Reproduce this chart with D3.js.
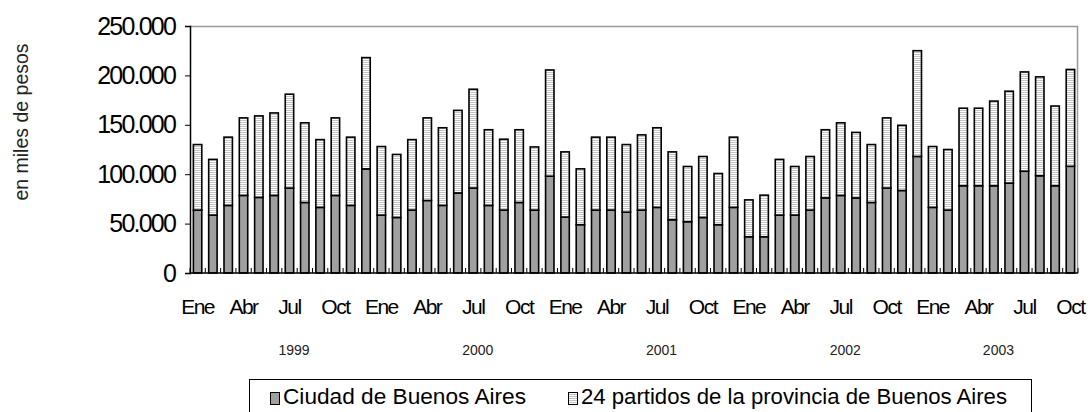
<!DOCTYPE html>
<html>
<head>
<meta charset="utf-8">
<script src="https://cdn.jsdelivr.net/npm/d3@7"></script>
<style>
  body { margin: 0; background: #fff; }
  svg { display: block; font-family: "Liberation Sans", Arial, sans-serif; }
</style>
</head>
<body>
<svg id="chart" width="1090" height="412"></svg>
<script>
// months of each year shown (1999 - oct 2003)
const years = ['1999', '2000', '2001', '2002', '2003'];
const monthNames = ['Ene', 'Feb', 'Mar', 'Abr', 'May', 'Jun', 'Jul', 'Ago', 'Sep', 'Oct', 'Nov', 'Dic'];
const monthsPerYear = [12, 12, 12, 12, 10];
const labelledMonths = ['Ene', 'Abr', 'Jul', 'Oct'];

// en miles de pesos
const ciudad = [
  63700, 58600, 68400, 78500, 76500, 78500, 86000, 71400, 66400, 78500, 68400, 105400,
  58600, 56200, 63700, 73400, 68400, 81000, 86000, 68400, 63700, 71400, 63700, 98000,
  56600, 48900, 63700, 63700, 61600, 63700, 66400, 53900, 51900, 56200, 48900, 66400,
  36700, 36700, 58600, 58600, 63700, 76000, 78500, 76000, 71400, 86000, 83500, 118000,
  66400, 63700, 88300, 88300, 88300, 91000, 103000, 98400, 88300, 108000
];
const partidos = [
  66300, 56400, 69100, 78500, 82500, 83500, 95000, 80600, 68600, 78500, 69100, 112600,
  69400, 63800, 71300, 83600, 78600, 83600, 100000, 76600, 71700, 73600, 63900, 107500,
  66000, 56500, 73800, 73800, 68400, 76100, 80600, 68700, 55900, 61700, 51800, 71100,
  37300, 42100, 56400, 49200, 54200, 69000, 73500, 66300, 58600, 71000, 66000, 107000,
  61600, 61300, 78500, 78500, 85700, 93000, 100500, 100100, 80700, 98000
];
const seriesNames = ['Ciudad de Buenos Aires', '24 partidos de la provincia de Buenos Aires'];
const yTicks = [0, 50000, 100000, 150000, 200000, 250000];

// build rows
const rows = [];
years.forEach((yr, yi) => {
  for (let m = 0; m < monthsPerYear[yi]; m++) {
    const i = rows.length;
    rows.push({ key: yr + '-' + m, year: yr, month: monthNames[m], ciudad: ciudad[i], partidos: partidos[i] });
  }
});

const svg = d3.select('#chart');
const margin = { left: 190, top: 26, right: 12, bottom: 139 };
const width = 1090 - margin.left - margin.right;
const height = 412 - margin.top - margin.bottom;

const defs = svg.append('defs');
const pat = defs.append('pattern')
  .attr('id', 'hlines')
  .attr('patternUnits', 'userSpaceOnUse')
  .attr('width', 4).attr('height', 2);
pat.append('rect').attr('width', 4).attr('height', 2).attr('fill', '#fff');
pat.append('rect').attr('width', 4).attr('height', 1).attr('fill', '#c4c4c4');

const g = svg.append('g').attr('transform', `translate(${margin.left},${margin.top})`);

const x = d3.scaleBand()
  .domain(rows.map(d => d.key))
  .range([0, width])
  .paddingInner(0.45)
  .paddingOuter(0.22);

const y = d3.scaleLinear().domain([0, 250000]).range([height, 0]);

const locale = d3.formatLocale({ decimal: ',', thousands: '.', grouping: [3], currency: ['$', ''] });
const fmt = locale.format(',');

// plot frame (top + right)
g.append('path')
  .attr('d', `M0,0.5H${width - 0.5}V${height}`)
  .attr('fill', 'none').attr('stroke', '#999').attr('stroke-width', 1.5);

// stacked bars
const stack = d3.stack().keys(['ciudad', 'partidos'])(rows);
const fills = ['#a0a0a0', 'url(#hlines)'];

g.selectAll('.layer')
  .data(stack)
  .enter().append('g')
  .attr('class', 'layer')
  .attr('fill', (d, i) => fills[i])
  .selectAll('rect')
  .data(d => d)
  .enter().append('rect')
  .attr('x', d => x(d.data.key))
  .attr('y', d => y(d[1]))
  .attr('width', x.bandwidth())
  .attr('height', d => y(d[0]) - y(d[1]))
  .attr('stroke', '#000')
  .attr('stroke-width', 1.6);

// y axis
const yAxis = d3.axisLeft(y).tickValues(yTicks).tickFormat(fmt).tickSize(5).tickPadding(10);
const yg = g.append('g').attr('class', 'y axis').call(yAxis);
yg.select('.domain').attr('stroke', '#000').attr('stroke-width', 1.5);
yg.selectAll('.tick line').attr('stroke', '#000');
yg.selectAll('text')
  .attr('font-size', 25).attr('fill', '#000')
  .attr('letter-spacing', -1.8)
  .attr('font-family', '"Liberation Sans", Arial, sans-serif');

// x axis line and category ticks (pointing up)
const step = x.step();
const x0 = d3.scaleLinear().domain([0, rows.length]).range([0, width]);
g.append('line')
  .attr('x1', 0).attr('x2', width)
  .attr('y1', height).attr('y2', height)
  .attr('stroke', '#000').attr('stroke-width', 1.5);
g.selectAll('.xtick')
  .data(d3.range(rows.length + 1))
  .enter().append('line')
  .attr('class', 'xtick')
  .attr('x1', i => x0(i)).attr('x2', i => x0(i))
  .attr('y1', height).attr('y2', height - 5)
  .attr('stroke', '#000').attr('stroke-width', 1);

// month labels
g.selectAll('.mlabel')
  .data(rows.filter(d => labelledMonths.includes(d.month)))
  .enter().append('text')
  .attr('class', 'mlabel')
  .attr('x', d => x(d.key) + x.bandwidth() / 2)
  .attr('y', height + 41)
  .attr('text-anchor', 'middle')
  .attr('font-size', 21)
  .attr('letter-spacing', -1.5)
  .text(d => d.month);

// year labels
const yearAnchor = ['Jul', 'Jul', 'Jul', 'Jul', 'May'];
g.selectAll('.ylabel')
  .data(years)
  .enter().append('text')
  .attr('class', 'ylabel')
  .attr('x', (yr, i) => x(yr + '-' + monthNames.indexOf(yearAnchor[i])) + x.bandwidth() / 2 + step * 0.3)
  .attr('y', height + 82)
  .attr('text-anchor', 'middle')
  .attr('font-size', 14)
  .attr('fill', '#222')
  .text(d => d);

// y title
svg.append('text')
  .attr('transform', `translate(28,122) rotate(-90)`)
  .attr('text-anchor', 'middle')
  .attr('font-size', 19.5)
  .attr('fill', '#222')
  .text('en miles de pesos');

// legend
const lg = svg.append('g').attr('class', 'legend');
lg.append('rect')
  .attr('x', 249.5).attr('y', 379.5)
  .attr('width', 782).attr('height', 45)
  .attr('fill', '#fff').attr('stroke', '#000');
const legX = [270, 568];
const legW = [243, 426];
seriesNames.forEach((name, i) => {
  lg.append('rect')
    .attr('x', legX[i] + 0.5).attr('y', 392.5)
    .attr('width', 9).attr('height', 12)
    .attr('fill', fills[i]).attr('stroke', '#000');
  lg.append('text')
    .attr('x', legX[i] + 13).attr('y', 404)
    .attr('font-size', 22)
    .attr('textLength', legW[i])
    .attr('lengthAdjust', 'spacingAndGlyphs')
    .text(name);
});
</script>
</body>
</html>
